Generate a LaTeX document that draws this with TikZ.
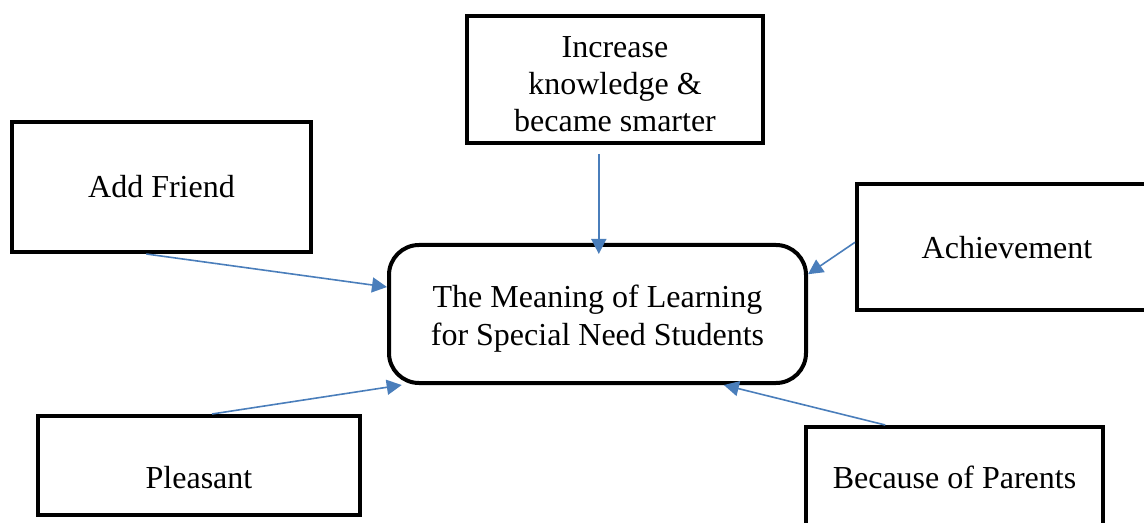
\documentclass[tikz,border=0pt]{standalone}
\usepackage{fontspec}
\setmainfont{Liberation Serif}
\usetikzlibrary{calc,arrows.meta}
\definecolor{arrowblue}{HTML}{4A7EBB}
\begin{document}
\begin{tikzpicture}[x=0.5pt,y=-0.5pt,
  box/.style={draw=black,line width=2pt,rectangle,fill=white,inner sep=0pt,align=center,
    font=\fontsize{16}{18.5}\selectfont},
  lbl/.style={inner sep=0pt,align=center,font=\fontsize{16}{18.5}\selectfont},
  conn/.style={draw=arrowblue,line width=0.8pt,-{Triangle[length=7.5pt,width=7.5pt]}}]
\useasboundingbox (0,0) rectangle (1144,523);

\node[box,minimum width=148pt,minimum height=63.5pt] (inc) at (615,79.5) {};
\node[lbl,yshift=-2.5pt] (inctext) at (inc.center) {Increase\\knowledge \&\\became smarter};
\node[box,minimum width=149.5pt,minimum height=65pt] (af) at (161.5,187) {Add Friend};
\node[box,rounded corners=15pt,minimum width=208.5pt,minimum height=69pt] (m) at (597.5,314) {};
\node[lbl,yshift=-2.5pt,font=\fontsize{16}{19}\selectfont] (mtext) at (m.center)
  {The Meaning of Learning\\for Special Need Students};
\node[box,minimum width=150pt,minimum height=63pt] (ach) at (1007,247.5) {Achievement};
\node[box,minimum width=148.5pt,minimum height=50.5pt] (par) at (954.5,477.5) {Because of Parents};
\node[box,minimum width=161pt,minimum height=49.5pt] (pl) at (199,465.5) {};
\node[lbl,anchor=base] (pltext) at (199,488) {Pleasant};

\coordinate (incs) at ($(inc.south west)!0.446!(inc.south east)+(0,9)$);
\draw[conn,shorten >=-5.5pt] (incs) -- (incs |- m.north);
\draw[conn] ($(af.south west)!0.45!(af.south east)$) -- ($(m.north west)!0.31!(m.south west)$);
\draw[conn] ($(pl.north west)!0.54!(pl.north east)$) -- ($(m.south west)!0.035!(m.south east)$);
\draw[conn] ($(ach.north west)!0.46!(ach.south west)$) -- ($(m.north east)!0.22!(m.south east)$);
\draw[conn] ($(par.north west)!0.27!(par.north east)$) -- ($(m.south west)!0.80!(m.south east)$);
\end{tikzpicture}
\end{document}
